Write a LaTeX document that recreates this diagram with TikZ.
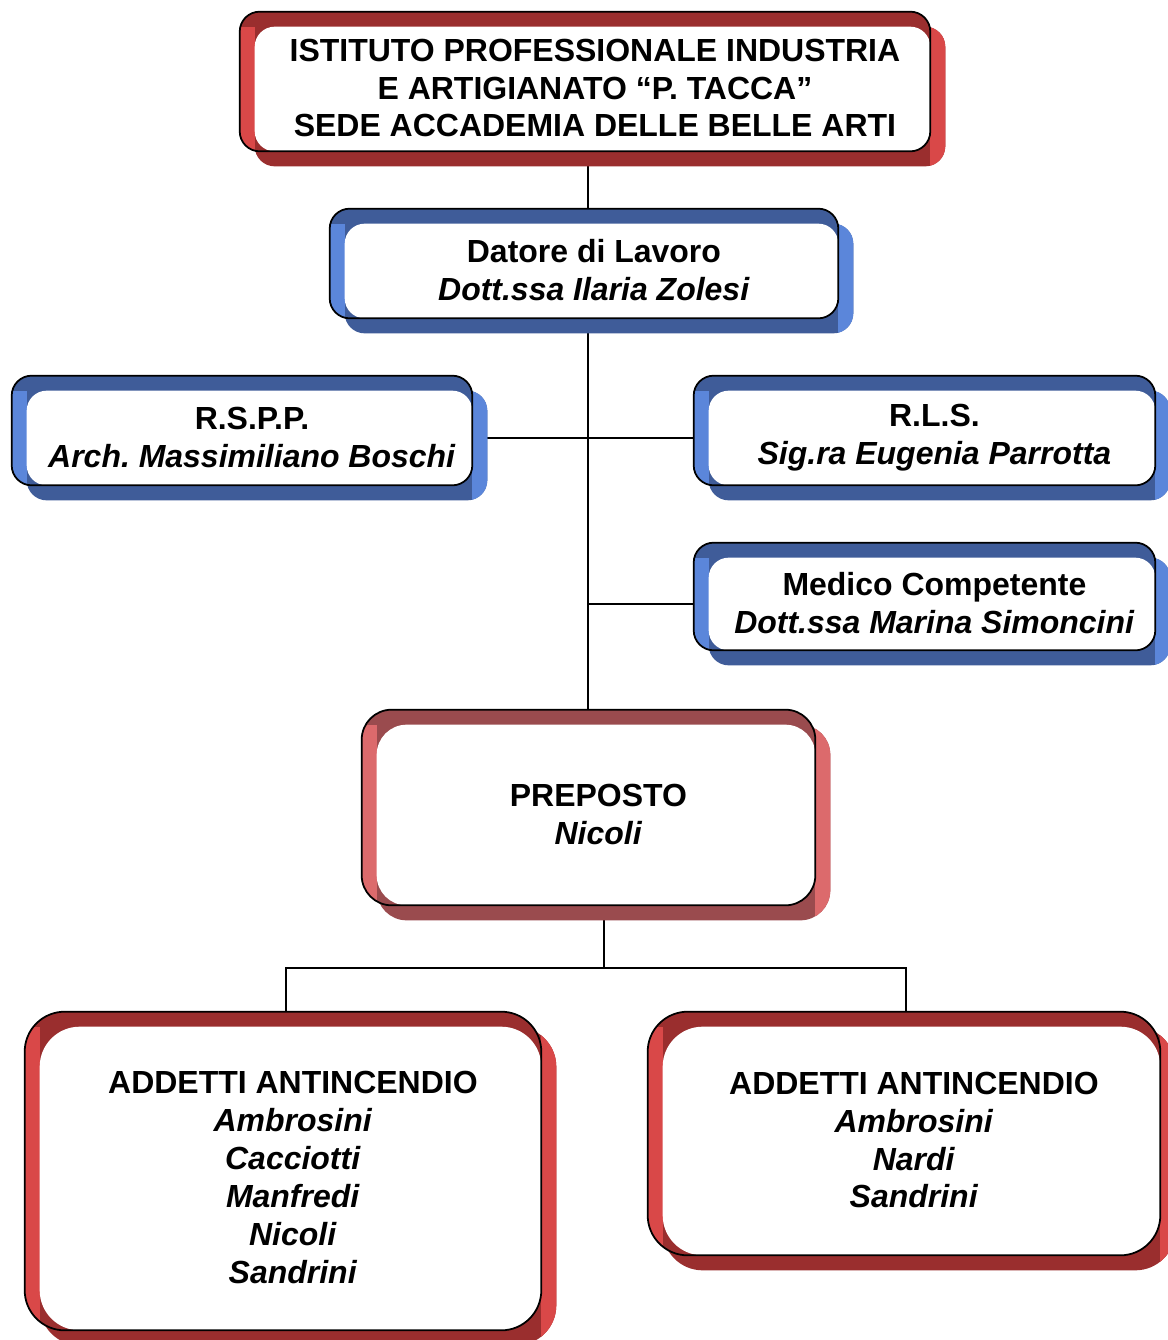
\documentclass[tikz,border=0pt]{standalone}
\usepackage{fontspec}
\setmainfont{Liberation Sans}
\usetikzlibrary{backgrounds,calc}
\definecolor{redDark}{HTML}{9A2E2E}
\definecolor{redLight}{HTML}{D94848}
\definecolor{blueDark}{HTML}{3F5C99}
\definecolor{blueLight}{HTML}{5B86DA}
\definecolor{pinkDark}{HTML}{9A4B4E}
\definecolor{pinkLight}{HTML}{DC6A6C}
\frenchspacing
\newcommand{\mystrut}{\rule[-1.3pt]{0pt}{19pt}}
\begin{document}
\begin{tikzpicture}[x=0.02cm,y=-0.02cm,
		box/.style={align=center,inner sep=0pt,font=\myfontbox,
			execute at begin node=\mystrut,execute at end node=\mystrut},
		link/.style={line width=1pt}]
			\newcommand{\myfontbox}{
				\fontsize{18.2}{21.6}\selectfont\bfseries
			}\newcommand{\myframe}[4]{
				%Shadow, offset to the lower right
				\begin{scope}
					\path[clip,rounded corners=#4] (#1.north west) rectangle ($(#1.south east)+(15,15)$);
					\fill[#2] ($(#1.north west)+(-20,-20)$) rectangle ($(#1.south east)+(20,20)$);
					\fill[#3] ($(#1.north east)+(0,-20)$) rectangle ($(#1.south east)+(20,20)$);
				\end{scope}
				%Front face with top band and left band
				\begin{scope}
					\path[clip,rounded corners=#4] ($(#1.north west)+(-15,-15)$) rectangle (#1.south east);
					\fill[#2] ($(#1.north west)+(-20,-20)$) rectangle ($(#1.south east)+(20,20)$);
					\fill[#3] ($(#1.north west)+(-20,0)$) rectangle ($(#1.south west)+(0,20)$);
				\end{scope}
				%White inner face
				\fill[white,rounded corners=#4] (#1.north west) rectangle (#1.south east);
				%Outline
				\draw[line width=1pt,rounded corners=#4] ($(#1.north west)+(-15,-15)$) rectangle (#1.south east);
			}%Page
			\useasboundingbox (0,0) rectangle (1168,1340);
			%Boxes (only the white faces, frames are drawn behind)
			\node [box,minimum width=13.5cm,minimum height=2.48cm] (inst) at (592.5,89) {ISTITUTO PROFESSIONALE INDUSTRIA\\E ARTIGIANATO “P. TACCA”\\SEDE ACCADEMIA DELLE BELLE ARTI};
			\node [box,minimum width=9.86cm,minimum height=1.88cm] (datore) at (591.5,271) {Datore di Lavoro\\\textit{Dott.ssa Ilaria Zolesi}};
			\node [box,minimum width=8.9cm,minimum height=1.88cm] (rspp) at (249.5,438) {R.S.P.P.\\\textit{Arch. Massimiliano Boschi}};
			\node [box,minimum width=8.92cm,minimum height=1.88cm] (rls) at (932,438) {R.L.S.\\\textit{Sig.ra Eugenia Parrotta}};
			\node [box,minimum width=8.92cm,minimum height=1.84cm] (medico) at (932,604) {Medico Competente\\\textit{Dott.ssa Marina Simoncini}};
			\node [box,minimum width=8.76cm,minimum height=3.6cm] (prep) at (596,815) {PREPOSTO\\\textit{Nicoli}};
			\node [box,minimum width=10.02cm,minimum height=6.06cm] (addL) at (290.5,1178.5) {ADDETTI ANTINCENDIO\\\textit{Ambrosini}\\\textit{Cacciotti}\\\textit{Manfredi}\\\textit{Nicoli}\\\textit{Sandrini}};
			\node [box,minimum width=9.94cm,minimum height=4.56cm] (addR) at (911.5,1141) {ADDETTI ANTINCENDIO\\\textit{Ambrosini}\\\textit{Nardi}\\\textit{Sandrini}};
			%Trunk and bar of the connectors
			\coordinate (trunk) at (588,0);
			\coordinate (bar) at (604,968);
			\coordinate (dropL) at (286,1100);
			\coordinate (dropR) at (906,1100);
			\begin{scope}[on background layer]
				%Connectors
				\draw [link] (trunk |- inst) -- (trunk |- prep);
				\draw [link] (rspp) -- (rls);
				\draw [link] (medico) -- (medico -| trunk);
				\draw [link] (bar |- prep) -- (bar);
				\draw [link] (dropL) |- (bar) -| (dropR);
				%Frames
				\myframe{inst}{redDark}{redLight}{0.4cm}
				\myframe{datore}{blueDark}{blueLight}{0.4cm}
				\myframe{rspp}{blueDark}{blueLight}{0.4cm}
				\myframe{rls}{blueDark}{blueLight}{0.4cm}
				\myframe{medico}{blueDark}{blueLight}{0.4cm}
				\myframe{prep}{pinkDark}{pinkLight}{0.6cm}
				\myframe{addL}{redDark}{redLight}{0.8cm}
				\myframe{addR}{redDark}{redLight}{0.8cm}
			\end{scope}
			\end{tikzpicture}
\end{document}
